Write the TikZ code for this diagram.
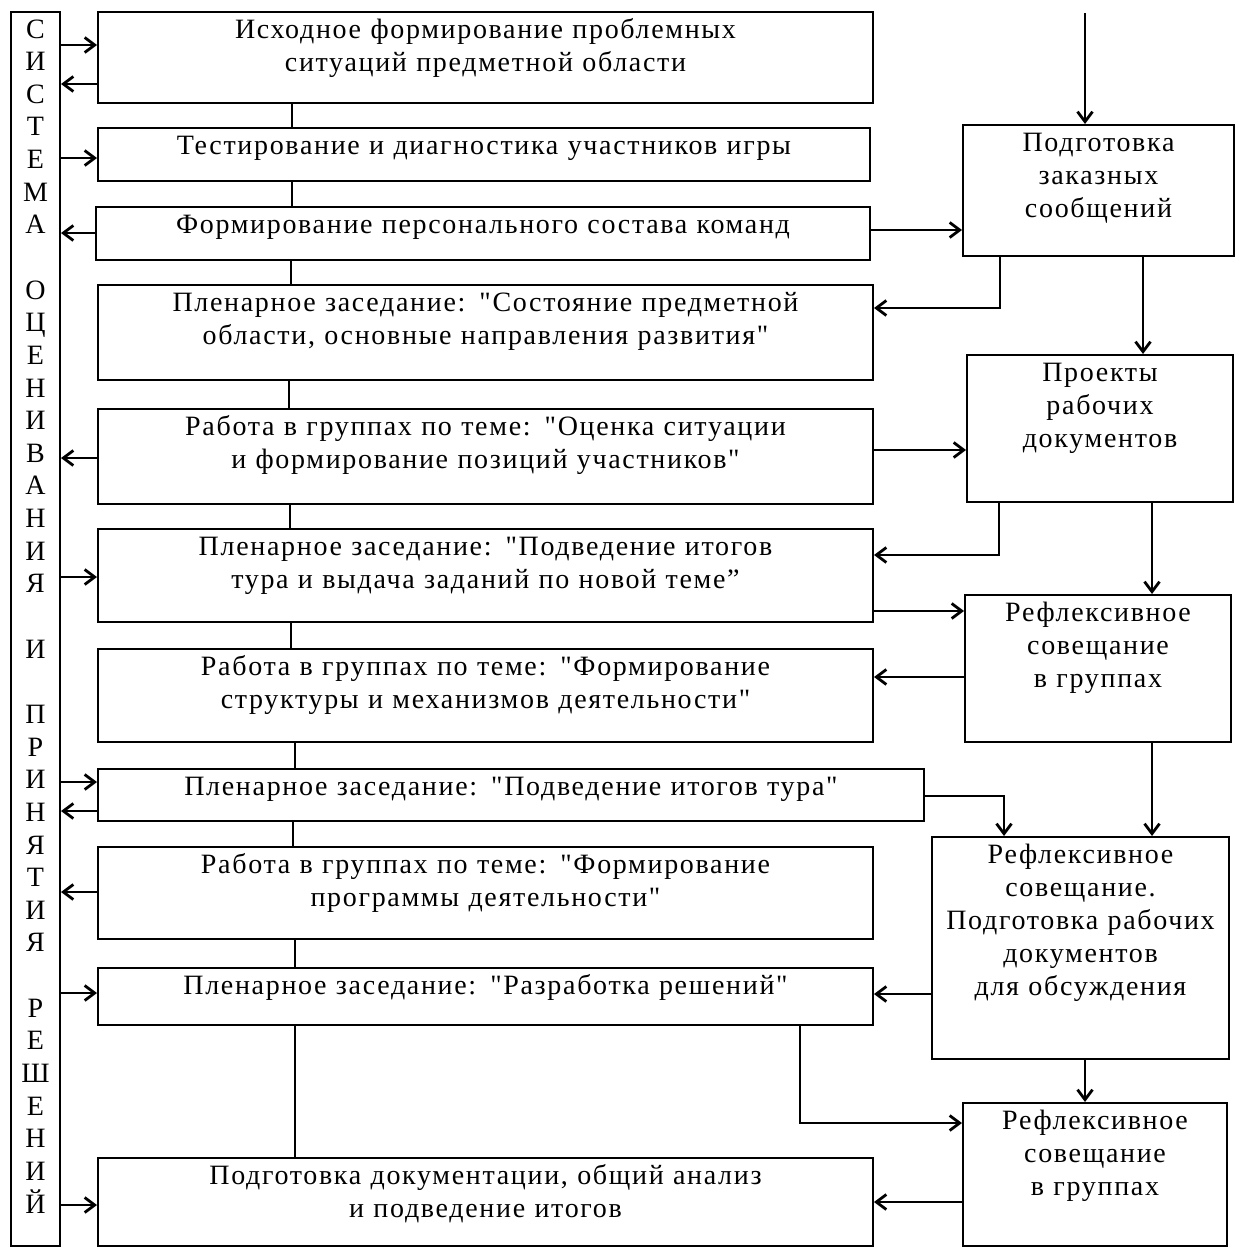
\documentclass[tikz,border=0pt]{standalone}
\usepackage{fontspec}
\setmainfont{Liberation Serif}[LetterSpace=6, Ligatures=TeXOff]
\usetikzlibrary{arrows.meta}
\begin{document}
\begin{tikzpicture}[x=1pt,y=-1pt,
  box/.style={draw, line width=2pt, inner sep=0pt, align=center,
    font=\fontsize{28}{33}\selectfont, text height=26pt, anchor=north west},
  arr/.style={line width=2.8pt, -{Straight Barb[length=10pt,width=15pt]}},
  conn/.style={line width=1.5pt}]
\useasboundingbox (0,0) rectangle (1234,1247);

% system column
\node[box, text width=49pt, text depth=1208pt, font=\fontsize{28}{32.64}\selectfont] (sys) at (10,11)
 {С\\И\\С\\Т\\Е\\М\\А\\~\\О\\Ц\\Е\\Н\\И\\В\\А\\Н\\И\\Я\\~\\И\\~\\П\\Р\\И\\Н\\Я\\Т\\И\\Я\\~\\Р\\Е\\Ш\\Е\\Н\\И\\Й};

% main column
\node[box, text width=775pt, text depth=65pt] (b1) at (97,11)
 {Исходное формирование проблемных\\ситуаций предметной области};
\node[box, text width=772pt, text depth=27pt] (b2) at (97,127)
 {Тестирование и диагностика участников игры};
\node[box, text width=774pt, text depth=27pt] (b3) at (95,206)
 {Формирование персонального состава команд};
\node[box, text width=775pt, text depth=69pt] (b4) at (97,284)
 {Пленарное заседание: "Состояние предметной\\области, основные направления развития"};
\node[box, text width=775pt, text depth=69pt] (b5) at (97,408)
 {Работа в группах по теме: "Оценка ситуации\\и формирование позиций участников"};
\node[box, text width=775pt, text depth=67pt] (b6) at (97,528)
 {Пленарное заседание: "Подведение итогов\\тура и выдача заданий по новой теме”};
\node[box, text width=775pt, text depth=67pt] (b7) at (97,648)
 {Работа в группах по теме: "Формирование\\структуры и механизмов деятельности"};
\node[box, text width=826pt, text depth=26pt] (b8) at (97,768)
 {Пленарное заседание: "Подведение итогов тура"};
\node[box, text width=775pt, text depth=66pt] (b9) at (97,846)
 {Работа в группах по теме: "Формирование\\программы деятельности"};
\node[box, text width=775pt, text depth=31pt] (b10) at (97,967)
 {Пленарное заседание: "Разработка решений"};
\node[box, text width=775pt, text depth=62pt] (b11) at (97,1157)
 {Подготовка документации, общий анализ\\и подведение итогов};

% right column
\node[box, text width=271pt, text depth=105pt] (A) at (962,124)
 {Подготовка\\заказных\\сообщений};
\node[box, text width=266pt, text depth=121pt] (B) at (966,354)
 {Проекты\\рабочих\\документов};
\node[box, text width=266pt, text depth=121pt] (C) at (964,594)
 {Рефлексивное\\совещание\\в группах};
\node[box, text width=297pt, text depth=196pt] (D) at (931,836)
 {Рефлексивное\\совещание.\\Подготовка рабочих\\документов\\для обсуждения};
\node[box, text width=264pt, text depth=117pt] (E) at (962,1102)
 {Рефлексивное\\совещание\\в группах};

% vertical connectors in main column
\draw[conn] (b1.south -| 292,0) -- (b2.north -| 292,0);
\draw[conn] (b2.south -| 292,0) -- (b3.north -| 292,0);
\draw[conn] (b3.south -| 291,0) -- (b4.north -| 291,0);
\draw[conn] (b4.south -| 289,0) -- (b5.north -| 289,0);
\draw[conn] (b5.south -| 290,0) -- (b6.north -| 290,0);
\draw[conn] (b6.south -| 291,0) -- (b7.north -| 291,0);
\draw[conn] (b7.south -| 295,0) -- (b8.north -| 295,0);
\draw[conn] (b8.south -| 293,0) -- (b9.north -| 293,0);
\draw[conn] (b9.south -| 295,0) -- (b10.north -| 295,0);
\draw[conn] (b10.south -| 295,0) -- (b11.north -| 295,0);

% arrows between system column and main column
\draw[arr] (sys.east |- 0,45) -- (b1.west |- 0,45);
\draw[arr] (b1.west |- 0,84) -- (sys.east |- 0,84);
\draw[arr] (sys.east |- 0,158) -- (b2.west |- 0,158);
\draw[arr] (b3.west |- 0,233) -- (sys.east |- 0,233);
\draw[arr] (b5.west |- 0,458) -- (sys.east |- 0,458);
\draw[arr] (sys.east |- 0,577) -- (b6.west |- 0,577);
\draw[arr] (sys.east |- 0,782) -- (b8.west |- 0,782);
\draw[arr] (b8.west |- 0,811) -- (sys.east |- 0,811);
\draw[arr] (b9.west |- 0,892) -- (sys.east |- 0,892);
\draw[arr] (sys.east |- 0,993) -- (b10.west |- 0,993);
\draw[arr] (sys.east |- 0,1205) -- (b11.west |- 0,1205);

% right column connectors
\coordinate (topin) at (1085,13);
\draw[arr] (topin) -- (A.north -| topin);
\draw[arr] (b3.east |- 0,230) -- (A.west |- 0,230);
\draw[arr] (A.south -| 1000,0) |- (b4.east |- 0,308);
\draw[arr] (A.south -| 1143,0) -- (B.north -| 1143,0);
\draw[arr] (b5.east |- 0,450) -- (B.west |- 0,450);
\draw[arr] (B.south -| 999,0) |- (b6.east |- 0,555);
\draw[arr] (B.south -| 1152,0) -- (C.north -| 1152,0);
\draw[arr] (b6.east |- 0,611) -- (C.west |- 0,611);
\draw[arr] (C.west |- 0,677) -- (b7.east |- 0,677);
\draw[arr] (C.south -| 1152,0) -- (D.north -| 1152,0);
\draw[arr] (b8.east |- 0,796) -| (D.north -| 1004,0);
\draw[arr] (D.west |- 0,994) -- (b10.east |- 0,994);
\draw[arr] (D.south -| 1085,0) -- (E.north -| 1085,0);
\draw[arr] (b10.south -| 800,0) |- (E.west |- 0,1123);
\draw[arr] (E.west |- 0,1202) -- (b11.east |- 0,1202);
\end{tikzpicture}
\end{document}
